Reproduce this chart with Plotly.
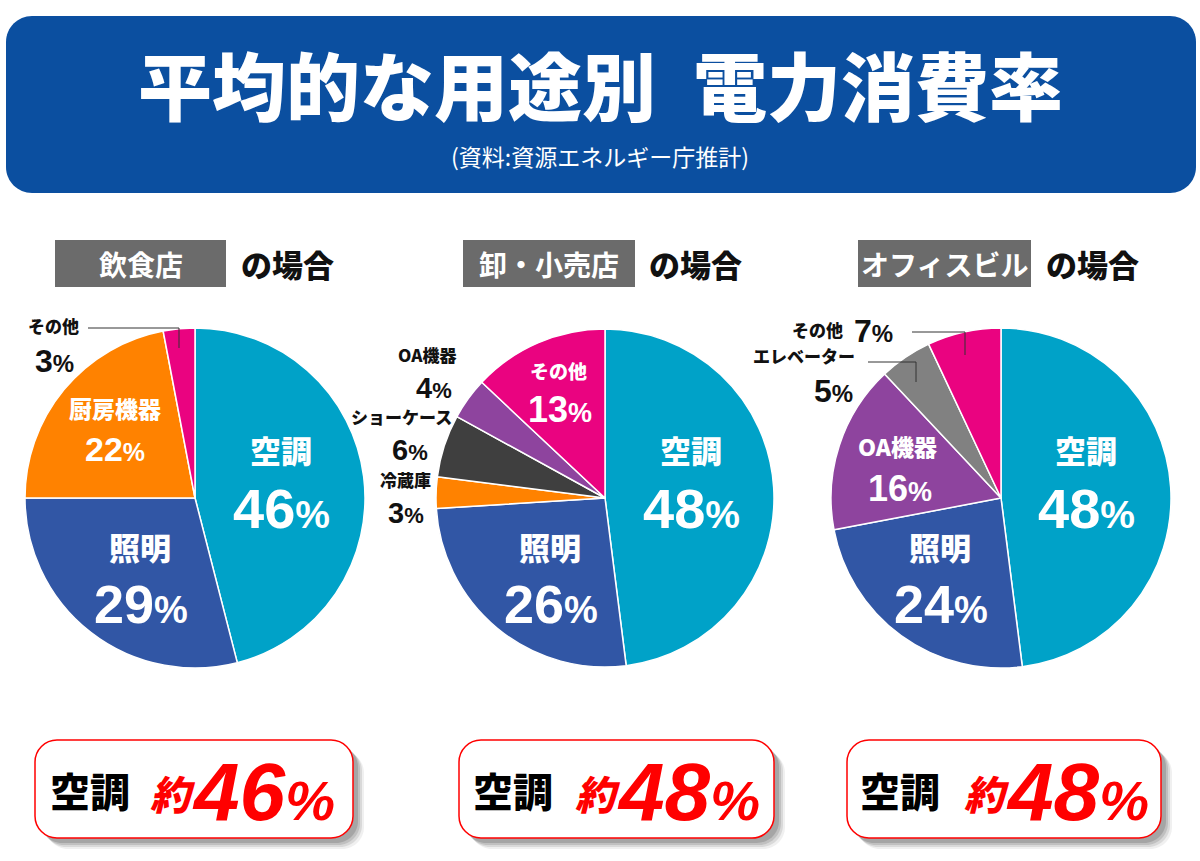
import plotly.graph_objects as go

# ---------------- data ----------------
facility_names = ["飲食店", "卸・小売店", "オフィスビル"]

restaurant_labels = ["空調", "照明", "厨房機器", "その他"]
restaurant_values = [46, 29, 22, 3]

retail_labels = ["空調", "照明", "冷蔵庫", "ショーケース", "OA機器", "その他"]
retail_values = [48, 26, 3, 6, 4, 13]

office_labels = ["空調", "照明", "OA機器", "エレベーター", "その他"]
office_values = [48, 24, 16, 5, 7]

title_text = "平均的な用途別\u2002電力消費率"
source_text = "(資料:資源エネルギー庁推計)"

# ---------------- styles ----------------
W, H = 1200, 861
FONT = "Noto Sans CJK JP"
NUMFONT = "Liberation Sans"
category_colors = {
    "空調": "#00A2C8",
    "照明": "#3156A5",
    "厨房機器": "#FF8200",
    "冷蔵庫": "#FF8200",
    "ショーケース": "#3F3F3F",
    "OA機器": "#8E449E",
    "エレベーター": "#818181",
    "その他": "#EA0380",
}

def px(x):
    return x / W

def py(y):
    return 1 - y / H

def rr_path(x0, y0, x1, y1, r):
    k = 0.5523 * r
    X0, X1 = px(x0), px(x1)
    Y0, Y1 = py(y0), py(y1)
    rx, ry, kx, ky = r / W, r / H, k / W, k / H
    return (f"M{X0+rx},{Y0} L{X1-rx},{Y0} C{X1-rx+kx},{Y0} {X1},{Y0-ry+ky} {X1},{Y0-ry} "
            f"L{X1},{Y1+ry} C{X1},{Y1+ry-ky} {X1-rx+kx},{Y1} {X1-rx},{Y1} "
            f"L{X0+rx},{Y1} C{X0+rx-kx},{Y1} {X0},{Y1+ry-ky} {X0},{Y1+ry} "
            f"L{X0},{Y0-ry} C{X0},{Y0-ry+ky} {X0+rx-kx},{Y0} {X0+rx},{Y0} Z")

shapes = []
annotations = []

def txt(x, y, text, size, color, weight=700, xanchor="center", yanchor="middle", family=FONT):
    annotations.append(dict(
        x=px(x), y=py(y), xref="paper", yref="paper", text=text, showarrow=False,
        font=dict(family=family, size=size, color=color, weight=weight),
        xanchor=xanchor, yanchor=yanchor))

def pct(v, small):
    return f"{v}<span style='font-size:{small}px'>%</span>"

def line(x0, y0, x1, y1):
    shapes.append(dict(type="line", xref="paper", yref="paper",
                       x0=px(x0), y0=py(y0), x1=px(x1), y1=py(y1),
                       line=dict(color="#333333", width=1), layer="above"))

fig = go.Figure()

# ---------------- header banner ----------------
shapes.append(dict(type="path", xref="paper", yref="paper",
                   path=rr_path(6, 16, 1196, 193, 26),
                   fillcolor="#0B4FA0", line=dict(width=0), layer="below"))
txt(600, 82, title_text, 74, "white", 900)
txt(600, 156, source_text, 23, "white", 400)

# ---------------- pies ----------------
pie_geo = [(195, 498, 170), (605, 498, 169), (1001, 498, 170)]
pie_data = [(restaurant_labels, restaurant_values),
            (retail_labels, retail_values),
            (office_labels, office_values)]

for (cx, cy, r), (labs, vals) in zip(pie_geo, pie_data):
    fig.add_trace(go.Pie(
        labels=labs, values=vals, sort=False, direction="clockwise", rotation=0,
        marker=dict(colors=[category_colors[l] for l in labs],
                    line=dict(color="white", width=1.5)),
        textinfo="none", hoverinfo="label+percent", showlegend=False,
        domain=dict(x=[px(cx - r), px(cx + r)], y=[py(cy + r), py(cy - r)]),
    ))

# ---------------- facility headings ----------------
heading_boxes = [(55, 226, 287), (463, 635, 695), (858, 1031, 1092)]
for name, (bx0, bx1, cx2) in zip(facility_names, heading_boxes):
    shapes.append(dict(type="rect", xref="paper", yref="paper",
                       x0=px(bx0), x1=px(bx1), y0=py(287), y1=py(240),
                       fillcolor="#6B6B6B", line=dict(width=0), layer="below"))
    txt((bx0 + bx1) / 2, 264, name, 28, "white", 700)
    txt(cx2, 264, "の場合", 31, "#111111", 900)

# ---------------- pie labels ----------------
# (index, name x, value x, split y, name size, value size, pct size, color)
placements = [
    [  # restaurant
        (0, 281, 281, 474, 31, 56, 39, "white"),
        (1, 140, 141, 571, 31, 54, 38, "white"),
        (2, 115, 115, 427, 23, 34, 25, "white"),
        (3, 53, 54, 340, 17, 32, 24, "#111111"),
    ],
    [  # retail
        (0, 691, 691, 474, 31, 56, 39, "white"),
        (1, 550, 551, 571, 31, 54, 38, "white"),
        (5, 558, 560, 386, 19, 36, 27, "white"),
        (4, 427, 434, 369, 17, 29, 22, "#111111"),
        (3, 401, 410, 431, 17, 29, 22, "#111111"),
        (2, 405, 406, 494, 17, 29, 22, "#111111"),
    ],
    [  # office
        (0, 1086, 1086, 474, 31, 56, 39, "white"),
        (1, 940, 941, 571, 31, 54, 38, "white"),
        (2, 897, 900, 465, 23, 36, 27, "white"),
        (3, 804, 833, 370, 17, 32, 24, "#111111"),
    ],
]
for (labs, vals), plist in zip(pie_data, placements):
    for idx, nx, vx, sy, ns, vs, ps, col in plist:
        txt(nx, sy, labs[idx], ns, col, 900, yanchor="bottom")
        txt(vx, sy + 1, pct(vals[idx], ps), vs, col, 700, yanchor="top", family=NUMFONT)

# office "その他 7%" sits on one row
txt(817, 330, office_labels[4], 17, "#111111", 900)
txt(852, 331, pct(office_values[4], 24), 32, "#111111", 700, xanchor="left", family=NUMFONT)

# leader lines
line(88, 328, 179, 328); line(179, 328, 179, 348)
line(912, 332, 965, 332); line(965, 332, 965, 355)
line(868, 362, 916, 362); line(916, 362, 916, 382)

# ---------------- summary boxes ----------------
summary_boxes = [(35, 353, 90, 148), (459, 774, 513, 573), (847, 1161, 900, 962)]
for (labs, vals), (x0, x1, kx, yx) in zip(pie_data, summary_boxes):
    for dx, dy, op in [(11, 11, 0.08), (9, 9, 0.12), (7, 7, 0.16), (5, 5, 0.2)]:
        shapes.append(dict(type="path", xref="paper", yref="paper",
                           path=rr_path(x0 + dx, 740 + dy, x1 + dx, 838 + dy, 22),
                           fillcolor=f"rgba(60,60,60,{op})", line=dict(width=0), layer="below"))
    shapes.append(dict(type="path", xref="paper", yref="paper",
                       path=rr_path(x0, 740, x1, 838, 22),
                       fillcolor="white", line=dict(color="#FF0000", width=1.5), layer="below"))
    txt(kx, 790, labs[0], 40, "#000000", 900)
    txt(yx, 793, "<i>約</i>", 40, "#FF0000", 900, xanchor="left")
    txt(yx + 42, 791, f"<i>{vals[0]}<span style='font-size:56px'>%</span></i>", 82, "#FF0000", 700,
        xanchor="left", family=NUMFONT)

fig.update_layout(
    width=W, height=H, autosize=False,
    margin=dict(l=0, r=0, t=0, b=0),
    paper_bgcolor="white", plot_bgcolor="white",
    shapes=shapes, annotations=annotations,
    font=dict(family=FONT),
)

fig.write_html(
    "out.html",
    config={"displayModeBar": False},
    post_script="document.body.style.margin='0';document.body.style.overflow='hidden';",
)
